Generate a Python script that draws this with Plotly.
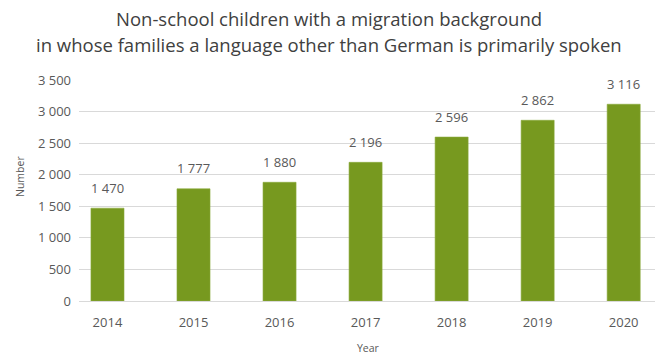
import plotly.graph_objects as go

years = ["2014", "2015", "2016", "2017", "2018", "2019", "2020"]
children = [1470, 1777, 1880, 2196, 2596, 2862, 3116]
y_ticks = [0, 500, 1000, 1500, 2000, 2500, 3000, 3500]

title_lines = [
    "Non-school children with a migration background",
    "in whose families a language other than German is primarily spoken",
]


def fmt(v):
    return f"{v:,}".replace(",", " ")


BAR = "#77991f"
GRID = "#d9d9d9"
TXT = "#595959"
FONT = "Open Sans"

# plot area in pixels: x 79..655, y 80..301
PLOT_TOP, PLOT_BOTTOM, PLOT_LEFT, PLOT_RIGHT = 80, 301, 79, 655
PH = PLOT_BOTTOM - PLOT_TOP
PW = PLOT_RIGHT - PLOT_LEFT


def py(pix):
    return (PLOT_BOTTOM - pix) / PH


def px(pix):
    return (pix - PLOT_LEFT) / PW


xs = list(range(len(years)))

fig = go.Figure(
    go.Bar(
        x=xs,
        y=children,
        marker=dict(color=BAR, line=dict(color="#8aa93a", width=0.6)),
        width=0.384,
        hoverinfo="x+y",
    )
)

# value labels above each bar
for xi, v in zip(xs, children):
    fig.add_annotation(
        x=xi, y=v, xref="x", yref="y",
        text=fmt(v), showarrow=False,
        yanchor="middle", yshift=20.5,
        font=dict(family=FONT, size=13, color=TXT),
    )

# two-line title, centred on the full figure width
for line, ypix in zip(title_lines, [18, 45]):
    fig.add_annotation(
        x=px(328.5), xref="paper", y=py(ypix), yref="paper",
        text=line, showarrow=False, xanchor="center", yanchor="middle",
        font=dict(family=FONT, size=18.5, color="#404040"),
    )

# axis titles
fig.add_annotation(
    x=px(20), xref="paper", y=py(177), yref="paper",
    text="Number", textangle=-90, showarrow=False,
    xanchor="center", yanchor="middle",
    font=dict(family=FONT, size=10.5, color=TXT),
)
fig.add_annotation(
    x=px(368), xref="paper", y=py(348), yref="paper",
    text="Year", showarrow=False, xanchor="center", yanchor="middle",
    font=dict(family=FONT, size=10.5, color=TXT),
)

fig.update_layout(
    width=657,
    height=355,
    margin=dict(l=PLOT_LEFT, r=657 - PLOT_RIGHT, t=PLOT_TOP, b=355 - PLOT_BOTTOM),
    paper_bgcolor="white",
    plot_bgcolor="white",
    showlegend=False,
    font=dict(family=FONT, color=TXT),
    xaxis=dict(
        range=[-0.331, 6.364],
        tickmode="array",
        tickvals=xs,
        ticktext=years,
        tickfont=dict(family=FONT, size=13, color=TXT),
        showgrid=False,
        zeroline=False,
        showline=False,
        ticks="",
        ticklabelstandoff=12,
    ),
    yaxis=dict(
        range=[0, 3500],
        tickmode="array",
        tickvals=y_ticks,
        ticktext=[fmt(v) for v in y_ticks],
        tickfont=dict(family=FONT, size=13, color=TXT),
        showgrid=True,
        gridcolor=GRID,
        gridwidth=1,
        zeroline=True,
        zerolinecolor=GRID,
        zerolinewidth=1,
        showline=False,
        ticks="",
        ticklabelstandoff=7,
    ),
)

fig.write_html("out.html")
